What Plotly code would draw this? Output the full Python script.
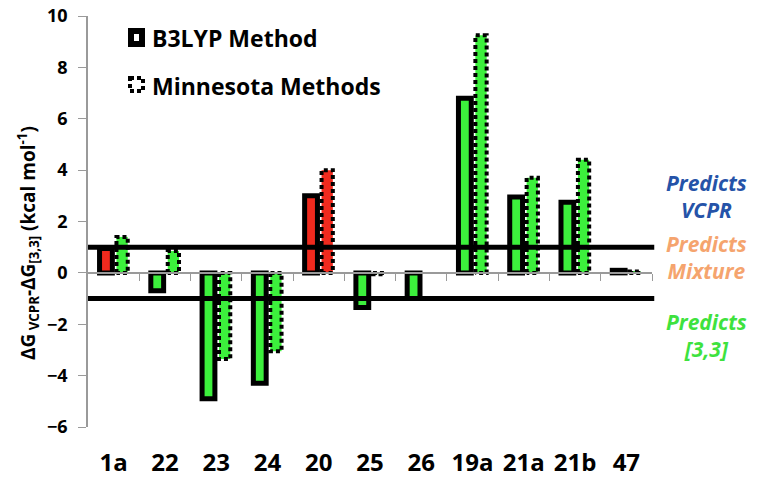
import plotly.graph_objects as go

# --- data ---
compounds = ["1a", "22", "23", "24", "20", "25", "26", "19a", "21a", "21b", "47"]
b3lyp = [0.95, -0.7, -4.9, -4.3, 3.0, -1.35, -1.0, 6.8, 2.95, 2.75, 0.1]
minnesota = [1.4, 0.85, -3.35, -3.05, 4.0, -0.05, 0.0, 9.25, 3.7, 4.4, 0.05]
b3lyp_colors = ["#f02a1e", "#3cf03c", "#3cf03c", "#3cf03c", "#f02a1e", "#3cf03c",
                "#3cf03c", "#3cf03c", "#3cf03c", "#3cf03c", "#3cf03c"]
minn_colors = ["#3cf03c", "#3cf03c", "#3cf03c", "#3cf03c", "#f02a1e", "#3cf03c",
               "#3cf03c", "#3cf03c", "#3cf03c", "#3cf03c", "#3cf03c"]
thresholds = [1, -1]
y_ticks = [10, 8, 6, 4, 2, 0, -2, -4, -6]

FONT = "Open Sans"
W, H = 760, 481
L, R, T, B = 88, 108, 16, 54
YMIN, YMAX = -6, 10

def px(x):  # pixel -> paper x
    return (x - L) / (W - L - R)

def py(y):  # pixel -> paper y
    return 1 - (y - T) / (H - T - B)

idx = list(range(len(compounds)))
b_off, b_w = -0.15, 0.25
m_off, m_w = 0.165, 0.22

fig = go.Figure()

# B3LYP bars, solid black outline
fig.add_trace(go.Bar(
    x=[i + b_off for i in idx], y=b3lyp, width=b_w,
    marker=dict(color=b3lyp_colors, line=dict(color="black", width=5)),
    showlegend=False,
))

# Minnesota bars, fill only
fig.add_trace(go.Bar(
    x=[i + m_off for i in idx], y=minnesota, width=m_w,
    marker=dict(color=minn_colors, line=dict(width=0)),
    showlegend=False,
))

# dotted outline for Minnesota bars
ox, oy = [], []
for i, v in zip(idx, minnesota):
    if v == 0:
        continue
    a, b = i + m_off - m_w / 2, i + m_off + m_w / 2
    ox += [a, a, b, b, a, None]
    oy += [0, v, v, 0, 0, None]
fig.add_trace(go.Scatter(
    x=ox, y=oy, mode="lines",
    line=dict(color="black", width=4, dash="4px,3px"),
    showlegend=False, hoverinfo="skip",
))

# threshold lines
for t in thresholds:
    fig.add_shape(type="line", xref="paper", yref="y", x0=0, x1=1.004, y0=t, y1=t,
                  line=dict(color="black", width=5), layer="above")

# gray category axis at y=0 with ticks between groups
zero_pos = (0 - YMIN) / (YMAX - YMIN)
fig.update_layout(
    xaxis=dict(range=[-0.5, len(compounds) - 0.5], tickvals=idx, ticktext=compounds,
               showline=False, showgrid=False, zeroline=False, automargin=False,
               ticks="outside", ticklen=14, tickcolor="rgba(0,0,0,0)",
               tickfont=dict(family=FONT, size=24, color="black", weight="bold")),
    xaxis2=dict(range=[-0.5, len(compounds) - 0.5], overlaying="x", anchor="free",
                position=zero_pos, side="bottom", automargin=False,
                tickvals=[i + 0.5 for i in idx], showticklabels=False,
                ticks="outside", ticklen=7, tickcolor="#9a9a9a", tickwidth=1,
                showline=True, linecolor="#9a9a9a", linewidth=1.5,
                showgrid=False, zeroline=False),
    yaxis=dict(range=[YMIN, YMAX], tickvals=y_ticks, showgrid=False, zeroline=False,
               showline=True, linecolor="#9a9a9a", linewidth=1.5, automargin=False,
               ticks="outside", ticklen=8, tickcolor="#9a9a9a", ticklabelstandoff=7,
               tickfont=dict(family=FONT, size=18, color="black", weight="bold")),
)
# dummy trace to make xaxis2 render
fig.add_trace(go.Scatter(x=[0], y=[0], xaxis="x2", mode="markers",
                         marker=dict(opacity=0), showlegend=False, hoverinfo="skip"))

# y-axis title
fig.add_annotation(
    text="ΔG<sub> VCPR</sub>-ΔG<sub>[3,3]</sub> (kcal mol<sup>-1</sup>)",
    xref="paper", yref="paper", x=px(28), y=py(243), xanchor="center", yanchor="middle",
    textangle=-90, showarrow=False,
    font=dict(family=FONT, size=19, color="black", weight="bold"),
)

# legend drawn by hand
fig.add_shape(type="rect", xref="paper", yref="paper",
              x0=px(131), x1=px(142), y0=py(31), y1=py(44),
              line=dict(color="black", width=6), fillcolor="white")
fig.add_shape(type="rect", xref="paper", yref="paper",
              x0=px(130), x1=px(143), y0=py(78), y1=py(91),
              line=dict(color="black", width=4, dash="4px,3px"), fillcolor="white")
fig.add_annotation(text="B3LYP Method", xref="paper", yref="paper", x=px(150), y=py(38),
                   xanchor="left", yanchor="middle", showarrow=False,
                   font=dict(family=FONT, size=23, color="black", weight="bold"))
fig.add_annotation(text="Minnesota Methods", xref="paper", yref="paper", x=px(150), y=py(86),
                   xanchor="left", yanchor="middle", showarrow=False,
                   font=dict(family=FONT, size=23, color="black", weight="bold"))

# region labels on the right
for txt, col, yy in [("Predicts<br>VCPR", "#2553a8", 196),
                     ("Predicts<br>Mixture", "#f5a46e", 257),
                     ("Predicts<br>[3,3]", "#3ee23e", 335)]:
    fig.add_annotation(text=txt, xref="paper", yref="paper", x=px(706), y=py(yy),
                       xanchor="center", yanchor="middle", showarrow=False,
                       font=dict(family=FONT, size=21, color=col, weight="bold", style="italic"))

fig.update_layout(
    width=W, height=H, margin=dict(l=L, r=R, t=T, b=B),
    plot_bgcolor="white", paper_bgcolor="white",
    barmode="overlay", showlegend=False,
)

# drop the browser's default 8px body margin so the figure sits at the window origin
fig.write_html("out.html", config={"displayModeBar": False},
               post_script="document.body.style.margin='0';")
